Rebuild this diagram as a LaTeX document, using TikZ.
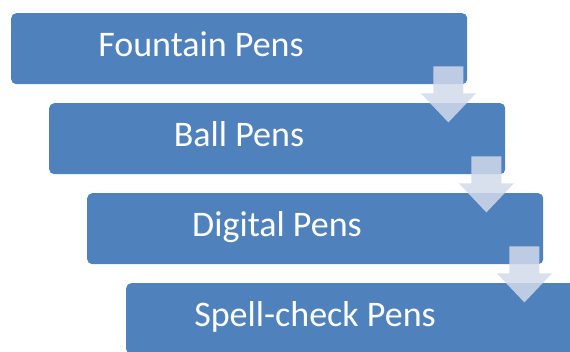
\documentclass[tikz,border=0pt]{standalone}
\usepackage{fontspec}
\setmainfont{Carlito}
\usetikzlibrary{calc}
\definecolor{stepblue}{HTML}{4F81BD}
\definecolor{arrowtint}{RGB}{210,218,234}
\begin{document}
\begin{tikzpicture}[x=1pt,y=-1pt,
  stagebox/.style={rectangle, rounded corners=5pt, fill=stepblue, draw=none,
    minimum width=456pt, minimum height=71pt, inner sep=0pt, anchor=north west},
  stagelabel/.style={text=white, font=\fontsize{36}{40}\selectfont, anchor=base, inner sep=0pt},
  flowarrow/.style={fill=arrowtint, fill opacity=0.85}]
\useasboundingbox (0,0) rectangle (570,352);
\clip (0,0) rectangle (570,352);
% stacked process stages
\node[stagebox] (b1) at (11,13) {};
\node[stagebox] (b2) at (49,103) {};
\node[stagebox] (b3) at (87,193) {};
\node[stagebox] (b4) at (126,283) {};
% stage captions
\node[stagelabel] (t1) at ($(b1.north west)+(190,44)$) {Fountain Pens};
\node[stagelabel] (t2) at ($(b2.north west)+(190,44)$) {Ball Pens};
\node[stagelabel] (t3) at ($(b3.north west)+(190,44)$) {Digital Pens};
\node[stagelabel] (t4) at ($(b4.north west)+(189,44)$) {Spell-check Pens};
% down arrows linking each stage to the next
\foreach \b in {b1,b2,b3}{
  \fill[flowarrow] ($(\b.south east)+(-34,-18)$) -- ($(\b.south east)+(-4,-18)$)
    -- ($(\b.south east)+(-4,9)$) -- ($(\b.south east)+(8.5,9)$)
    -- ($(\b.south east)+(-19,38)$) -- ($(\b.south east)+(-46.5,9)$)
    -- ($(\b.south east)+(-34,9)$) -- cycle;
}
\end{tikzpicture}
\end{document}
